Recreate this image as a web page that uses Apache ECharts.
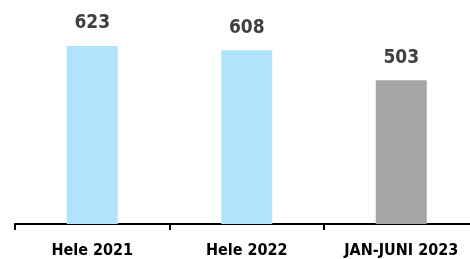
<!DOCTYPE html>
<html>
<head>
<meta charset="utf-8">
<script src="https://cdn.jsdelivr.net/npm/echarts@6/dist/echarts.min.js"></script>
<style>
    html, body { margin: 0; padding: 0; background: #fff; }
    #chart { width: 470px; height: 259px; }
</style>
</head>
<body>
<div id="chart"></div>
<script>
var categories = ['Hele 2021', 'Hele 2022', 'JAN-JUNI 2023'];
var values = [623, 608, 503];

var myChart = echarts.init(document.getElementById('chart'));

var option = {
    animation: false,
    grid: { left: 15, width: 463.5, top: 24, bottom: 35, containLabel: false, outerBoundsMode: 'none' },
    xAxis: {
        type: 'category',
        data: categories,
        axisLine: { lineStyle: { color: '#000', width: 2 } },
        axisTick: { show: true, length: 6, lineStyle: { color: '#000', width: 2 } },
        axisLabel: {
            color: '#000',
            fontFamily: 'DejaVu Sans Condensed',
            fontWeight: 'bold',
            fontSize: 16,
            margin: 19
        }
    },
    yAxis: {
        type: 'value',
        min: 0,
        max: 700,
        show: false,
        splitLine: { show: false }
    },
    series: [
        {
            type: 'bar',
            data: values,
            barWidth: 51,
            itemStyle: {
                color: function (p) {
                    return p.dataIndex === 2 ? '#a5a5a5' : '#afe4fb';
                }
            },
            label: {
                show: true,
                position: 'top',
                distance: 13,
                color: '#404040',
                fontFamily: 'DejaVu Sans Condensed',
                fontWeight: 'bold',
                fontSize: 19
            }
        }
    ]
};

myChart.setOption(option);
window.addEventListener('resize', function () {
    myChart.resize();
});
</script>
</body>
</html>
